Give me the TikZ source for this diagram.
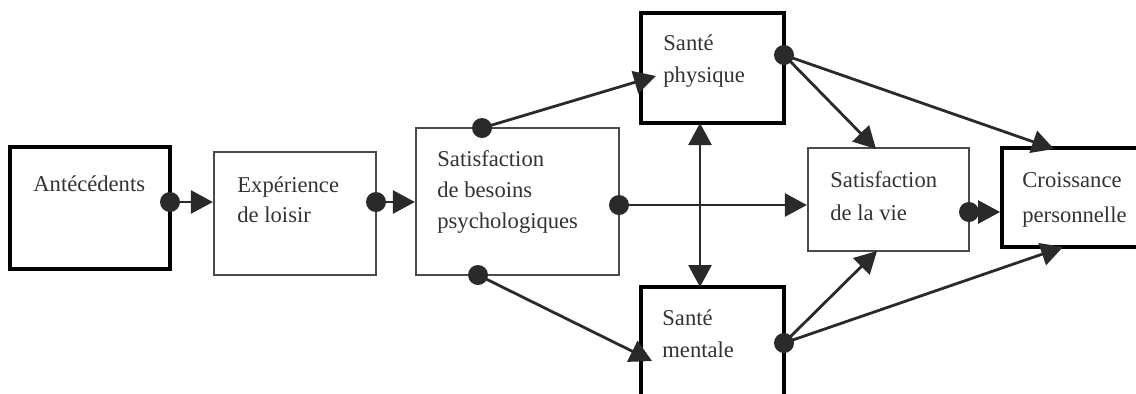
\documentclass[tikz,border=0pt]{standalone}
\usepackage{fontspec}
\setmainfont{Liberation Serif}
\usetikzlibrary{arrows.meta}
\definecolor{ink}{HTML}{2A2A2A}
\definecolor{txt}{HTML}{333333}
\begin{document}
\begin{tikzpicture}[x=0.5pt,y=-0.5pt,
  thinbox/.style={draw=ink!85,line width=1.1pt,fill=white,rectangle,inner sep=0pt},
  thickbox/.style={draw=black,line width=1.9pt,fill=white,rectangle,inner sep=0pt},
  lbl/.style={anchor=base west,inner sep=0pt,text=txt,font=\fontsize{11.3}{14}\selectfont},
  conn/.style={draw=ink,line width=1.4pt,-{Triangle[length=11pt,width=11.5pt]}},
  dconn/.style={draw=ink,line width=1.4pt,{Triangle[length=11pt,width=11.5pt]}-{Triangle[length=11pt,width=11.5pt]}},
  dot/.style={circle,fill=ink,inner sep=0pt,minimum size=10pt}]
\clip (0,0) rectangle (1136,393);
\useasboundingbox (0,0) rectangle (1136,393);
% boxes
\node[thickbox,minimum width=80pt,minimum height=61pt] (ant) at (90,208) {};
\node[thinbox,minimum width=81pt,minimum height=61.5pt] (exp) at (295,213.5) {};
\node[thinbox,minimum width=101.5pt,minimum height=73.5pt] (sb) at (517.5,201.5) {};
\node[thickbox,minimum width=71.5pt,minimum height=55pt] (sp) at (712.5,68) {};
\node[thickbox,minimum width=71.5pt,minimum height=61.5pt] (sm) at (712.5,348.5) {};
\node[thinbox,minimum width=80.5pt,minimum height=51.5pt] (svie) at (888.5,199.5) {};
\node[thickbox,minimum width=71.5pt,minimum height=49.5pt] (cp) at (1073.5,197.5) {};
% texts
\node[lbl] (t1) at (33,191) {Antécédents};
\node[lbl] (t2a) at (237,192) {Expérience};
\node[lbl] (t2b) at (237,222) {de loisir};
\node[lbl] (t3a) at (437,166) {Satisfaction};
\node[lbl] (t3b) at (437,197) {de besoins};
\node[lbl] (t3c) at (437,228) {psychologiques};
\node[lbl] (t4a) at (663,50) {Santé};
\node[lbl] (t4b) at (663,82) {physique};
\node[lbl] (t5a) at (662,325) {Santé};
\node[lbl] (t5b) at (662,357) {mentale};
\node[lbl] (t6a) at (830,187) {Satisfaction};
\node[lbl] (t6b) at (830,220) {de la vie};
\node[lbl] (t7a) at (1022,187) {Croissance};
\node[lbl] (t7b) at (1022,222) {personnelle};
% connection points
\coordinate (d1) at (170,202);
\coordinate (d2) at (376,202);
\coordinate (d3) at (482,128);
\coordinate (d4) at (478,275);
\coordinate (d5) at (619,205);
\coordinate (d6) at (784,55);
\coordinate (d7) at (784,343);
\coordinate (d8) at (969,212);
\coordinate (e3) at (656,76);
\coordinate (e4) at (652,361);
\coordinate (v1) at (700,123);
\coordinate (v2) at (700,287);
\coordinate (e7) at (876,149);
\coordinate (e8) at (1054,149);
\coordinate (e9) at (877,251);
\coordinate (e10) at (1063,247);
% connectors
\draw[conn] (d1) -- (exp.west |- d1);
\draw[conn] (d2) -- (sb.west |- d2);
\draw[conn] (d3) -- (e3);
\draw[conn] (d4) -- (e4);
\draw[conn] (d5) -- (svie.west |- d5);
\draw[dconn] (v1) -- (v2);
\draw[conn] (d6) -- (e7);
\draw[conn] (d6) -- (e8);
\draw[conn] (d7) -- (e9);
\draw[conn] (d7) -- (e10);
\draw[conn] (d8) -- (cp.west |- d8);
% dots
\foreach \p in {d1,d2,d3,d4,d5,d6,d7,d8} \node[dot] (n\p) at (\p) {};
\end{tikzpicture}
\end{document}
